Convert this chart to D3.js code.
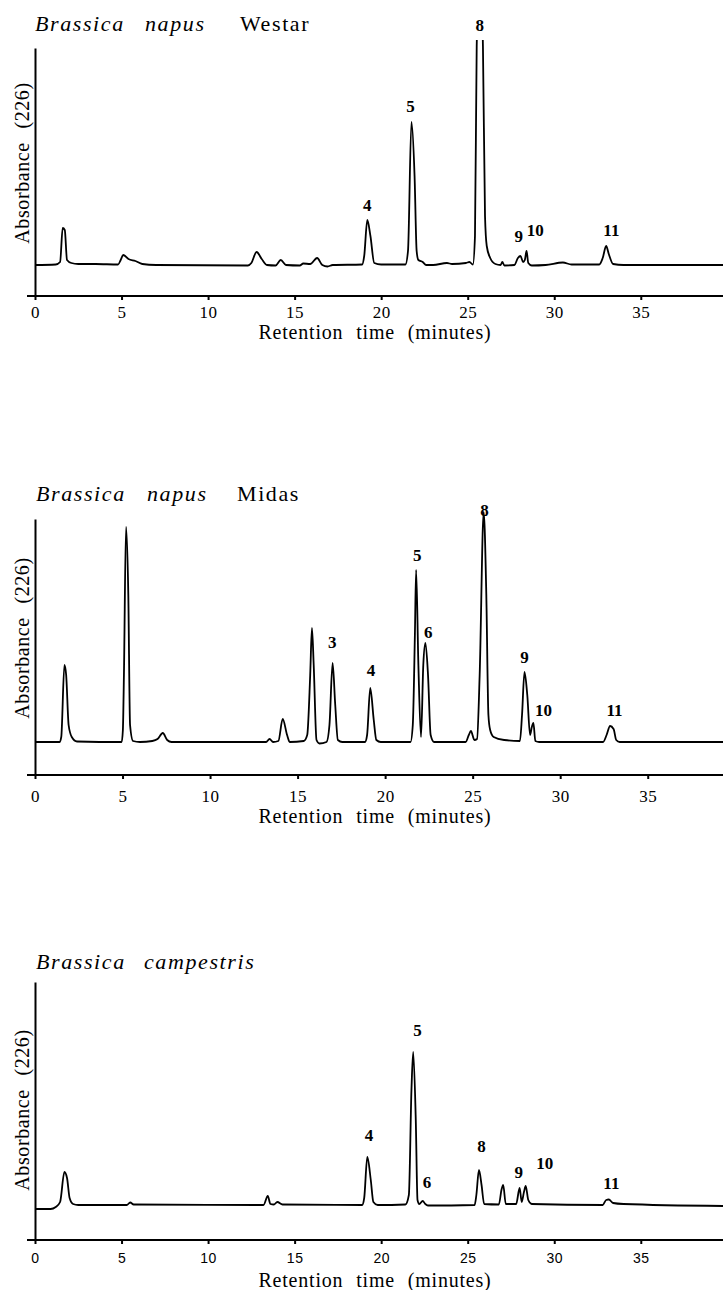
<!DOCTYPE html>
<html>
<head>
<meta charset="utf-8">
<script src="https://cdn.jsdelivr.net/npm/d3@7"></script>
<style>
  body { margin: 0; background: #fff; }
  svg { display: block; }
  .trace { fill: none; stroke: #000; stroke-width: 1.8; stroke-linejoin: round; }
  .axis path, .axis line { stroke: #000; stroke-width: 2; }
</style>
</head>
<body>
<div id="chart"></div>
<script>
// chromatogram traces: [retention time (min), absorbance (arbitrary units)]
var westarTrace = [
  [0, 31], [1.2, 31.5], [1.45, 34], [1.6, 68], [1.72, 66], [1.85, 36], [2.1, 33], [2.5, 32],
  [3.5, 32], [4.8, 31.5], [4.95, 36], [5.1, 41], [5.4, 37], [5.8, 35], [6.2, 32], [7, 31],
  [12.3, 30.5], [12.5, 33], [12.8, 44], [13.1, 37], [13.4, 31], [13.9, 30.5], [14.2, 36], [14.5, 31],
  [15.3, 30.5], [15.5, 32.5], [15.9, 32], [16.3, 38], [16.6, 31], [16.9, 29.5], [17.2, 31],
  [18.9, 31.5], [19.02, 40], [19.2, 76], [19.38, 60], [19.6, 33], [20, 31.5],
  [21.4, 31.5], [21.55, 45], [21.75, 174], [21.93, 120], [22.05, 45], [22.15, 36], [22.4, 34], [22.6, 31],
  [23, 31], [23.8, 33], [24.1, 32], [24.9, 33], [25.1, 34], [25.3, 31.5], [25.42, 60],
  [25.52, 250], [25.7, 330], [25.88, 250], [26.0, 80], [26.1, 50], [26.3, 38], [26.6, 32],
  [26.9, 31], [27.0, 34], [27.12, 30.5], [27.7, 31], [27.9, 38], [28.05, 40], [28.2, 34],
  [28.3, 36], [28.4, 45], [28.5, 33], [28.7, 30.5], [29.5, 31], [30.5, 33.5], [31, 31.5],
  [32.6, 31.5], [32.8, 38], [33.0, 50], [33.15, 42], [33.4, 32], [34, 31], [39.8, 31]
];
var midasTrace = [
  [0, 33], [1.4, 33], [1.5, 38], [1.68, 110], [1.78, 100], [1.92, 50], [2.1, 38], [2.4, 33.5],
  [4.95, 33], [5.02, 45], [5.08, 100], [5.2, 248], [5.33, 180], [5.43, 50], [5.6, 34], [6.0, 33],
  [6.7, 34], [7.0, 36], [7.3, 42], [7.55, 35], [7.8, 33],
  [13.2, 33], [13.4, 36], [13.6, 33], [13.9, 34], [14.15, 56], [14.4, 40], [14.55, 33],
  [15.35, 34], [15.55, 40], [15.72, 100], [15.82, 147], [15.92, 110], [16.08, 35], [16.25, 31.5],
  [16.65, 33], [16.82, 50], [17.0, 112], [17.15, 70], [17.3, 35], [17.55, 33],
  [18.85, 33], [18.97, 40], [19.15, 87], [19.35, 55], [19.5, 35], [19.75, 33],
  [21.45, 33], [21.58, 50], [21.7, 140], [21.77, 205], [21.9, 110], [22.05, 38],
  [22.18, 110], [22.3, 132], [22.45, 100], [22.6, 40], [22.8, 33],
  [24.6, 33], [24.78, 40], [24.9, 44], [25.1, 35], [25.25, 36], [25.4, 100], [25.63, 263],
  [25.78, 180], [25.9, 60], [26.0, 45], [26.2, 38], [26.8, 35],
  [27.7, 34], [27.82, 60], [27.96, 103], [28.12, 80], [28.28, 40], [28.38, 48], [28.47, 52],
  [28.58, 34], [28.8, 33], [32.45, 33], [32.65, 40], [32.85, 49], [33.05, 46], [33.2, 35],
  [33.4, 33], [39.3, 33]
];
var campestrisTrace = [
  [0, 31], [0.9, 31], [1.2, 33], [1.45, 38], [1.7, 68], [1.85, 62], [2.0, 42], [2.2, 36], [2.5, 35],
  [5.3, 35], [5.5, 37.5], [5.7, 35.5], [13.2, 35], [13.45, 44], [13.6, 36], [13.8, 35.5],
  [14.0, 38], [14.3, 35.5], [18.9, 35], [19.02, 42], [19.2, 83], [19.4, 60], [19.55, 38], [19.8, 35],
  [21.4, 35.5], [21.6, 45], [21.75, 150], [21.85, 188], [22.0, 120], [22.1, 40], [22.2, 36],
  [22.4, 39], [22.55, 36], [22.7, 34.5], [25.4, 35], [25.5, 45], [25.65, 70], [25.8, 55],
  [25.95, 36], [26.8, 35.5], [26.95, 50], [27.05, 55], [27.2, 36], [27.8, 36], [28.0, 52],
  [28.12, 38], [28.25, 48], [28.35, 54], [28.5, 40], [28.7, 36], [32.8, 35], [33.0, 40],
  [33.15, 40.5], [33.4, 37], [34, 36], [39.8, 34]
];

// peak numbers: [label, time, absorbance]
var westarPeaks = [["4", 19.2, 91], ["5", 21.7, 190], ["8", 25.7, 271], ["9", 27.95, 60], ["10", 28.9, 66], ["11", 33.3, 66]];
var midasPeaks = [["3", 16.98, 133], ["4", 19.2, 105], ["5", 21.84, 220], ["6", 22.47, 143], ["8", 25.67, 265], ["9", 27.96, 118], ["10", 29.05, 65], ["11", 33.1, 65]];
var campestrisPeaks = [["4", 19.3, 105], ["5", 22.1, 210], ["6", 22.65, 58], ["8", 25.8, 94], ["9", 27.95, 68], ["10", 29.45, 77], ["11", 33.3, 57]];

var westarTitle = [["Brassica", "italic"], ["napus", "italic"], ["Westar", "normal"]];
var midasTitle = [["Brassica", "italic"], ["napus", "italic"], ["Midas", "normal"]];
var campestrisTitle = [["Brassica", "italic"], ["campestris", "italic"]];

var xTicks = [0, 5, 10, 15, 20, 25, 30, 35];
var xTitle = "Retention time (minutes)";
var yTitle = "Absorbance (226)";

var serif = "'Liberation Serif', 'Times New Roman', serif";
var sans = "'Liberation Sans', Arial, sans-serif";

var svgWidth = 723;
var svgHeight = 1290;

var panels = [
  { trace: westarTrace, peaks: westarPeaks, title: westarTitle, titleX: [35, 145, 240], titleY: 31,
    top: 48, axisY: 296, xMax: 39.75, clipTop: 40, tickFont: serif, tickSize: 17, tickPad: 6, xTitleY: 339, yTitleY: 163 },
  { trace: midasTrace, peaks: midasPeaks, title: midasTitle, titleX: [36, 147, 237], titleY: 501,
    top: 519, axisY: 775, xMax: 39.3, clipTop: 500, tickFont: serif, tickSize: 17, tickPad: 11, xTitleY: 823, yTitleY: 638 },
  { trace: campestrisTrace, peaks: campestrisPeaks, title: campestrisTitle, titleX: [36, 144], titleY: 969,
    top: 982, axisY: 1240, xMax: 39.75, clipTop: 975, tickFont: sans, tickSize: 14, tickPad: 9, xTitleY: 1287, yTitleY: 1110 }
];

var svg = d3.select("#chart")
    .append("svg")
    .attr("width", svgWidth)
    .attr("height", svgHeight);

svg.append("rect")
    .attr("width", svgWidth)
    .attr("height", svgHeight)
    .attr("fill", "#fff");

panels.forEach(function(p, i) {
    var x = d3.scaleLinear().domain([0, p.xMax]).range([35, 723]);
    var y = d3.scaleLinear().domain([0, p.axisY - p.top]).range([p.axisY, p.top]);

    var g = svg.append("g");

    // title
    var title = g.append("text")
        .attr("y", p.titleY)
        .style("font-family", serif)
        .style("font-size", "22px")
        .style("letter-spacing", "1.6px");
    p.title.forEach(function(w, j) {
        title.append("tspan")
            .attr("x", p.titleX[j])
            .style("font-style", w[1])
            .text(w[0]);
    });

    // x axis
    var bottomAxis = d3.axisBottom(x)
        .tickValues(xTicks)
        .tickSizeInner(4)
        .tickSizeOuter(0)
        .tickPadding(p.tickPad);
    var xg = g.append("g")
        .attr("class", "axis")
        .attr("transform", `translate(0, ${p.axisY})`)
        .call(bottomAxis);
    xg.select(".domain").remove();
    xg.selectAll("text")
        .style("font-family", p.tickFont)
        .style("font-size", p.tickSize + "px")
        .style("letter-spacing", "0.5px")
        .attr("fill", "#000");
    g.append("line")
        .attr("x1", x(0) - 8)
        .attr("x2", x(p.xMax))
        .attr("y1", p.axisY)
        .attr("y2", p.axisY)
        .attr("stroke", "#000")
        .attr("stroke-width", 2);

    // y axis (no ticks)
    var leftAxis = d3.axisLeft(y).tickValues([]).tickSizeOuter(0);
    g.append("g")
        .attr("class", "axis")
        .attr("transform", `translate(${x(0)}, 0)`)
        .call(leftAxis);

    // trace
    var clipId = "clip" + i;
    svg.append("clipPath")
        .attr("id", clipId)
        .append("rect")
        .attr("x", 0)
        .attr("y", p.clipTop)
        .attr("width", svgWidth)
        .attr("height", p.axisY - p.clipTop);

    var line = d3.line()
        .x(d => x(d[0]))
        .y(d => y(d[1]))
        .curve(d3.curveMonotoneX);

    g.append("path")
        .datum(p.trace)
        .attr("class", "trace")
        .attr("clip-path", `url(#${clipId})`)
        .attr("d", line);

    // peak numbers
    g.selectAll(".peak")
        .data(p.peaks)
        .enter()
        .append("text")
        .attr("class", "peak")
        .attr("x", d => x(d[1]))
        .attr("y", d => y(d[2]))
        .attr("dy", "0.35em")
        .style("text-anchor", "middle")
        .style("font-family", serif)
        .style("font-weight", "bold")
        .style("font-size", "17px")
        .text(d => d[0]);

    // axis titles
    g.append("text")
        .attr("x", 375)
        .attr("y", p.xTitleY)
        .style("text-anchor", "middle")
        .style("font-family", serif)
        .style("font-size", "20px")
        .style("letter-spacing", "0.8px")
        .style("word-spacing", "7px")
        .text(xTitle);

    g.append("text")
        .attr("transform", `translate(29, ${p.yTitleY}) rotate(-90)`)
        .style("text-anchor", "middle")
        .style("font-family", serif)
        .style("font-size", "20px")
        .style("letter-spacing", "0.6px")
        .style("word-spacing", "8px")
        .text(yTitle);
});
</script>
</body>
</html>
